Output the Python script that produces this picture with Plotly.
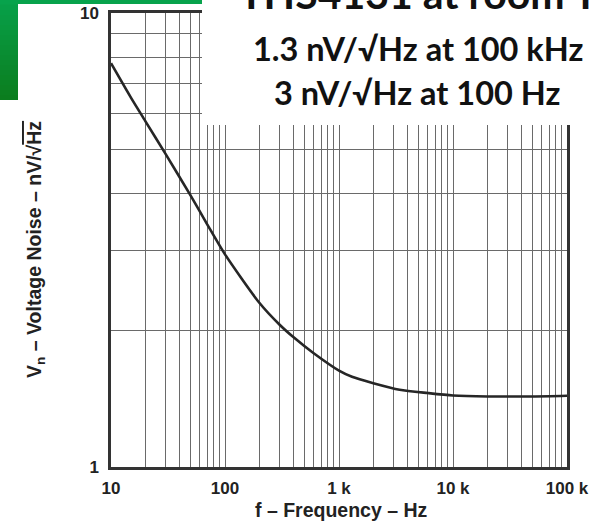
import plotly.graph_objects as go

# ---- data ----
freq_hz = [10, 15, 20, 30, 50, 70, 100, 200, 300, 400, 600, 1000, 1300, 2000, 3400, 6000, 10000, 20000, 50000, 100000]
noise_nv = [7.75, 6.5, 5.78, 4.9, 3.96, 3.42, 2.94, 2.3, 2.06, 1.93, 1.78, 1.63, 1.58, 1.53, 1.48, 1.455, 1.437, 1.43, 1.43, 1.435]

x_tick_vals = [10, 100, 1000, 10000, 100000]
x_tick_text = ["10", "100", "1 k", "10 k", "100 k"]
y_tick_vals = [1, 10]
y_tick_text = ["1", "10"]
x_minor_vals = [m * 10 ** d for d in range(1, 5) for m in range(2, 10)]
y_minor_vals = [2, 3, 4, 5, 6, 7, 8, 9]

title_lines = ["THS4131 at room T", "1.3 nV/√Hz at 100 kHz", "3 nV/√Hz at 100 Hz"]
x_title = "f – Frequency – Hz"
y_title = "V<sub>n</sub> – Voltage Noise – nV/√<span style='text-decoration:overline'>Hz</span>"

W, H = 609, 529
L, R, T, B = 111, 567, 13, 467


def px(x):
    return (x - L) / (R - L)


def py(y):
    return (B - y) / (B - T)


GRID = "#6a6a6a"
AX = "#333333"

fig = go.Figure()
fig.add_trace(go.Scatter(
    x=freq_hz, y=noise_nv, mode="lines",
    line=dict(color="#262626", width=2.6, shape="spline", smoothing=0.7),
    hoverinfo="skip", showlegend=False,
))

tick_font = dict(family="Liberation Sans", size=17, color="#222222", weight="bold")

fig.update_xaxes(
    type="log", range=[1, 5], tickmode="array", tickvals=x_tick_vals, ticktext=x_tick_text,
    showgrid=True, gridcolor=GRID, gridwidth=1.3,
    minor=dict(tickvals=x_minor_vals, showgrid=True, gridcolor=GRID, gridwidth=1.3, ticks=""),
    showline=True, linecolor=AX, linewidth=2.5, mirror=True, ticks="", zeroline=False,
    tickfont=tick_font, ticklabelstandoff=4, automargin=False,
)
fig.update_yaxes(
    type="log", range=[0, 1], tickmode="array", tickvals=y_tick_vals, ticktext=y_tick_text,
    showgrid=True, gridcolor=GRID, gridwidth=1.3,
    minor=dict(tickvals=y_minor_vals, showgrid=True, gridcolor=GRID, gridwidth=1.3, ticks=""),
    showline=True, linecolor=AX, linewidth=2.5, mirror=True, ticks="", zeroline=False,
    tickfont=tick_font, ticklabelstandoff=6, automargin=False,
)

shapes = []
# green gradient decoration (top-left)
n = 20
top_c = (7, 161, 74)
bot_c = (11, 125, 30)
for i in range(n):
    t = i / (n - 1)
    c = tuple(int(round(top_c[k] + (bot_c[k] - top_c[k]) * t)) for k in range(3))
    y0 = 100 * i / n
    y1 = 100 * (i + 1) / n
    shapes.append(dict(type="rect", xref="paper", yref="paper",
                       x0=px(-2), x1=px(18), y0=py(y1), y1=py(y0 - (2 if i == 0 else 0)),
                       fillcolor="rgb(%d,%d,%d)" % c, line=dict(width=0), layer="above"))
shapes.append(dict(type="rect", xref="paper", yref="paper",
                   x0=px(-2), x1=px(203), y0=py(4), y1=py(-2),
                   fillcolor="rgb(7,163,76)", line=dict(width=0), layer="above"))
# white text box covering the top-right of the chart
shapes.append(dict(type="rect", xref="paper", yref="paper",
                   x0=px(202), x1=px(615), y0=py(125), y1=py(-5),
                   fillcolor="white", line=dict(width=0), layer="above"))

big_font = dict(family="Lato", size=41, color="#111111", weight="bold")
sub_font = dict(family="Lato", size=32.5, color="#111111", weight="bold")
annotations = [
    dict(text=title_lines[0], xref="paper", yref="paper", x=px(418), y=py(-7), xanchor="center",
         yanchor="middle", showarrow=False, font=big_font),
    dict(text=title_lines[1], xref="paper", yref="paper", x=px(418), y=py(48), xanchor="center",
         yanchor="middle", showarrow=False, font=sub_font),
    dict(text=title_lines[2], xref="paper", yref="paper", x=px(417), y=py(92), xanchor="center",
         yanchor="middle", showarrow=False, font=sub_font),
    dict(text=x_title, xref="paper", yref="paper", x=px(341), y=py(510), xanchor="center",
         yanchor="middle", showarrow=False,
         font=dict(family="Liberation Sans", size=19.5, color="#222222", weight="bold")),
    dict(text=y_title, xref="paper", yref="paper", x=px(36), y=py(250), xanchor="center",
         yanchor="middle", showarrow=False, textangle=-90,
         font=dict(family="Liberation Sans", size=19.5, color="#222222", weight="bold")),
]

fig.update_layout(
    width=W, height=H, autosize=False,
    margin=dict(l=L, r=W - R, t=T, b=H - B, pad=0),
    paper_bgcolor="white", plot_bgcolor="white",
    shapes=shapes, annotations=annotations, showlegend=False,
)

fig.write_html("out.html", config={"displayModeBar": False},
               post_script="document.body.style.margin='0';")
